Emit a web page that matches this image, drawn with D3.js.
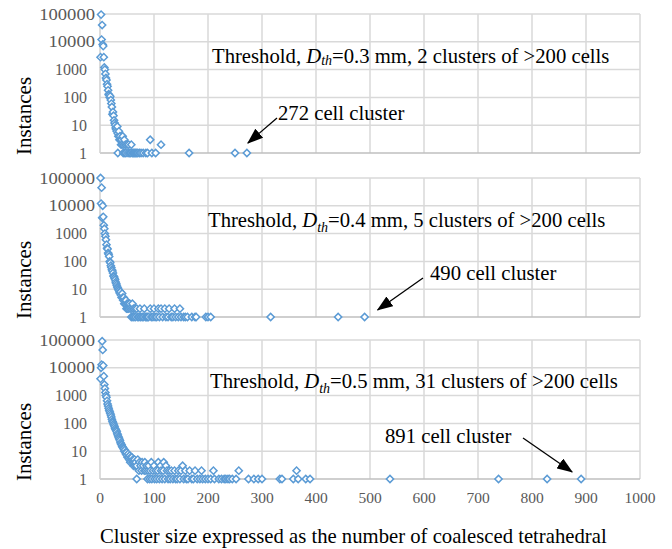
<!DOCTYPE html>
<html>
<head>
<meta charset="utf-8">
<script src="https://cdn.jsdelivr.net/npm/d3@7"></script>
<style>
  body { margin: 0; background: #fff; }
  svg { font-family: "Liberation Serif", "Times New Roman", serif; }
</style>
</head>
<body>
<svg id="chart" width="672" height="549"></svg>
<script>
// cluster size vs number of instances, one array per threshold
const clusters03 = [[1,2800],[2,95000],[3,12000],[4,40000],[5,8000],[6,7000],[7,2800],[8,1200],[9,1000],[10,700],
  [11,500],[12,420],[13,300],[14,250],[15,180],[16,130],[17,120],[18,100],[19,110],[20,80],
  [21,60],[22,45],[23,25],[24,30],[25,22],[26,15],[27,12],[28,10],[29,8],[30,7],[31,6],[32,9],
  [33,1],[33,5],[34,4],[35,6],[36,3],[37,4],[38,3],[39,2],[40,3],[41,2],[42,4],[43,1],[44,2],[45,3],
  [46,1],[47,2],[48,1],[50,2],[52,1],[53,2],[55,1],[57,1],[58,2],[60,1],[62,1],[64,1],[66,1],[68,1],
  [70,1],[73,1],[76,1],[80,1],[85,1],[88,1],[93,3],[96,1],[103,1],[113,2],[165,1],[250,1],[272,1]];

const clusters04 = [[1,100000],[2,12000],[3,45000],[4,3700],[5,10000],[6,4000],[7,2000],[8,1500],[9,1000],[10,800],
  [11,600],[12,400],[13,300],[14,280],[15,200],[16,180],[17,150],[18,100],[19,90],[20,70],
  [21,60],[22,50],[23,45],[24,38],[25,30],[26,28],[27,25],[28,22],[29,18],[30,16],
  [31,14],[32,12],[33,11],[34,10],[35,9],[36,8],[37,7],[38,8],[39,6],[40,5],
  [41,7],[42,5],[43,4],[44,5],[45,3],[46,4],[47,3],[48,4],[49,2],[50,3],[51,2],[52,3],[53,2],
  [55,3],[56,2],[58,1],[59,2],[60,3],[61,1],[62,2],[63,1],[65,2],[66,1],[68,2],[70,1],[72,1],[74,2],[75,1],
  [78,1],[80,1],[82,2],[84,1],[86,1],[88,1],[90,1],[93,2],[95,1],[98,1],[100,2],[102,1],[105,1],[108,2],[110,1],
  [113,2],[116,1],[120,2],[122,1],[126,1],[128,2],[132,1],[135,1],[138,2],[140,1],[145,1],[148,2],[150,1],
  [155,1],[158,1],[162,1],[170,1],[176,1],[178,1],[196,1],[200,1],[205,1],[316,1],[441,1],[490,1]];

const clusters05 = [[1,4000],[2,10000],[3,13000],[4,90000],[5,44000],[6,12000],[7,5000],[8,2500],[9,1800],[10,1300],
  [11,1000],[12,870],[13,650],[14,500],[15,420],[16,350],[17,300],[18,260],[19,230],[20,200],
  [21,170],[22,140],[23,120],[24,110],[25,95],[26,85],[27,75],[28,66],[29,60],[30,55],
  [31,50],[32,42],[33,38],[34,33],[35,30],[36,27],[37,24],[38,20],[39,18],[40,17],
  [41,15],[42,14],[43,13],[44,12],[45,10],[46,11],[47,9],[48,8],[49,9],[50,7],
  [51,6],[52,8],[53,6],[54,5],[55,7],[56,4],[57,6],[58,5],[59,6],[60,4],[61,5],[62,3],[63,4],[64,5],[65,3],[66,4],
  [68,1],[68,3],[70,5],[72,2],[73,4],[75,3],[77,2],[78,4],[80,3],[82,2],[83,4],[85,2],[86,3],[88,1],[89,2],[90,3],
  [92,1],[93,2],[95,4],[96,1],[98,2],[100,3],[101,1],[103,2],[105,1],[107,2],[108,4],[110,1],[112,3],[113,2],
  [115,1],[117,2],[118,4],[120,1],[122,3],[124,2],[126,1],[128,2],[130,1],[132,2],[135,1],[138,2],[140,1],
  [143,1],[145,2],[148,1],[150,2],[153,3],[155,1],[158,2],[160,1],[163,1],[166,2],[170,1],[173,1],[176,2],
  [180,1],[185,1],[188,2],[190,1],[195,1],[200,1],[205,1],[210,2],[212,1],[220,1],[225,1],[230,1],[233,1],
  [237,1],[240,1],[245,1],[252,1],[257,2],[275,1],[285,1],[293,1],[300,1],[333,1],[337,1],[358,1],[364,2],
  [367,1],[381,1],[389,1],[537,1],[738,1],[828,1],[891,1]];

const thresholds = ["0.3", "0.4", "0.5"];
const bigClusterCounts = [2, 5, 31];
const largestCluster = [272, 490, 891];
const xTicks = [0, 100, 200, 300, 400, 500, 600, 700, 800, 900, 1000];
const yTicks = [1, 10, 100, 1000, 10000, 100000];

const panelData = [clusters03, clusters04, clusters05];
const panelTops = [14, 178, 340];
const panelH = 139;
// text placement for each panel: threshold label and arrow note
const labelPos = [{x: 212, y: 63}, {x: 208, y: 227}, {x: 210, y: 388}];
const notePos = [{x: 278, y: 120}, {x: 430, y: 280}, {x: 385, y: 443}];
const arrowStart = [[277, 118], [423, 278], [523, 438]];
const arrowTipOffset = [[1, -10], [13, -7], [-9, -7]];
const bigFont = 20.7;

const svg = d3.select("#chart");
const x = d3.scaleLinear().domain([0, 1000]).range([100, 640]);

svg.append("defs").append("marker")
  .attr("id", "head")
  .attr("markerUnits", "userSpaceOnUse")
  .attr("viewBox", "0 0 16 12")
  .attr("refX", 15).attr("refY", 6)
  .attr("markerWidth", 16).attr("markerHeight", 12)
  .attr("orient", "auto")
  .append("path").attr("d", "M0,0 L16,6 L0,12 Z").attr("fill", "#000");

const diamond = d3.symbol().type(d3.symbolSquare).size(26);

panelData.forEach((data, i) => {
  const top = panelTops[i];
  const y = d3.scaleLog().domain([1, 100000]).range([top + panelH, top]);
  const g = svg.append("g");

  // gridlines
  g.selectAll(".hg").data(yTicks.slice(1)).join("line")
    .attr("x1", x(0)).attr("x2", x(1000))
    .attr("y1", d => y(d)).attr("y2", d => y(d))
    .attr("stroke", "#d9d9d9").attr("stroke-width", 1.5);
  g.selectAll(".vg").data(xTicks.slice(1)).join("line")
    .attr("x1", d => x(d)).attr("x2", d => x(d))
    .attr("y1", y(100000)).attr("y2", y(1))
    .attr("stroke", "#d9d9d9").attr("stroke-width", 1.5);
  // axis lines
  g.append("line").attr("x1", x(0)).attr("x2", x(1000)).attr("y1", y(1)).attr("y2", y(1))
    .attr("stroke", "#bfbfbf").attr("stroke-width", 1.5);
  g.append("line").attr("x1", x(0)).attr("x2", x(0)).attr("y1", y(100000)).attr("y2", y(1))
    .attr("stroke", "#d0d0d0").attr("stroke-width", 1.5);

  // y tick labels
  g.selectAll(".yl").data(yTicks).join("text")
    .attr("x", d => d >= 10000 ? 95 : 87)
    .attr("y", d => y(d))
    .attr("dy", "0.35em")
    .attr("text-anchor", "end")
    .attr("font-size", 16)
    .attr("fill", "#595959")
    .attr("textLength", d => d >= 10000 ? String(d).length * 9.3 : null)
    .attr("lengthAdjust", "spacingAndGlyphs")
    .text(d => d);

  // y axis title
  g.append("text")
    .attr("transform", `translate(31,${y(1) - 37}) rotate(-90)`)
    .attr("text-anchor", "middle")
    .attr("font-size", 21)
    .text("Instances");

  // threshold label
  const lab = g.append("text")
    .attr("x", labelPos[i].x).attr("y", labelPos[i].y)
    .attr("font-size", bigFont);
  lab.append("tspan").text("Threshold, ");
  lab.append("tspan").attr("font-style", "italic").text("D");
  lab.append("tspan").attr("font-style", "italic").attr("font-size", 14)
    .attr("dy", i === 0 ? 2 : 5).text("th");
  lab.append("tspan").attr("dy", i === 0 ? -2 : -5)
    .text(`=${thresholds[i]} mm, ${bigClusterCounts[i]} clusters of >200 cells`);

  // points
  g.selectAll(".pt").data(data).join("path")
    .attr("d", diamond)
    .attr("transform", d => `translate(${x(d[0])},${y(d[1])}) rotate(45)`)
    .attr("fill", "#fff")
    .attr("stroke", "#5b9bd5")
    .attr("stroke-width", 1.5);

  // note with arrow
  g.append("text")
    .attr("x", notePos[i].x).attr("y", notePos[i].y)
    .attr("font-size", bigFont)
    .text(`${largestCluster[i]} cell cluster`);
  g.append("line")
    .attr("x1", arrowStart[i][0]).attr("y1", arrowStart[i][1])
    .attr("x2", x(largestCluster[i]) + arrowTipOffset[i][0])
    .attr("y2", y(1) + arrowTipOffset[i][1])
    .attr("stroke", "#000").attr("stroke-width", 1.3)
    .attr("marker-end", "url(#head)");

  // x tick labels only under the last panel
  if (i === panelData.length - 1) {
    g.selectAll(".xl").data(xTicks).join("text")
      .attr("x", d => x(d)).attr("y", 498).attr("dy", "0.35em")
      .attr("text-anchor", "middle")
      .attr("font-size", 15.5).attr("fill", "#595959")
      .text(d => d);
  }
});

svg.append("text")
  .attr("x", 100).attr("y", 543)
  .attr("font-size", bigFont)
  .text("Cluster size expressed as the number of coalesced tetrahedral");
</script>
</body>
</html>
